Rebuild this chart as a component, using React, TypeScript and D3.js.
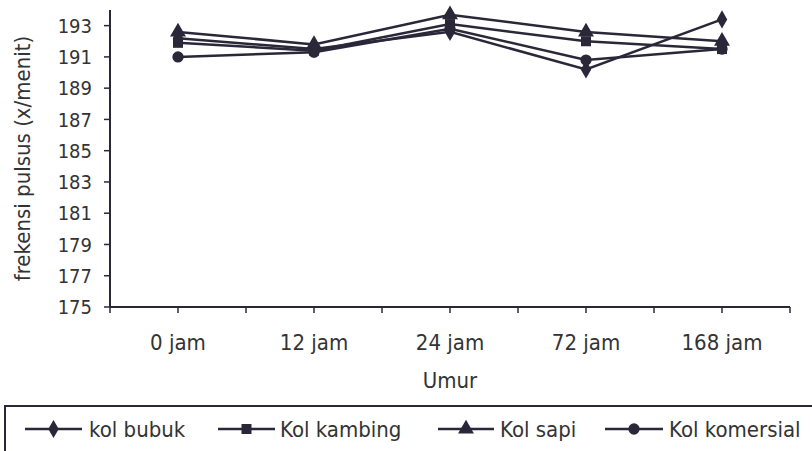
import React from "react";
import * as d3 from "d3";

const categories = ["0 jam", "12 jam", "24 jam", "72 jam", "168 jam"];
const yTicks = [175, 177, 179, 181, 183, 185, 187, 189, 191, 193];
const seriesNames = ["kol bubuk", "Kol kambing", "Kol sapi", "Kol komersial"];
const kolBubuk = [192.2, 191.5, 192.6, 190.2, 193.4];
const kolKambing = [191.9, 191.4, 193.1, 192.0, 191.5];
const kolSapi = [192.6, 191.8, 193.7, 192.6, 192.0];
const kolKomersial = [191.0, 191.3, 192.8, 190.8, 191.5];
const symbols = ["diamond", "square", "triangle", "circle"];

const W = 812;
const H = 451;
const FONT = "'DejaVu Sans Condensed', 'DejaVu Sans', sans-serif";
const INK = "#2a2838";
const TEXT = "#333333";

function Marker({ type, x, y }: { type: string; x: number; y: number }) {
  const sym =
    type === "diamond" ? d3.symbolDiamond : type === "square" ? d3.symbolSquare : type === "triangle" ? d3.symbolTriangle : d3.symbolCircle;
  const size = type === "diamond" ? 95 : type === "triangle" ? 110 : type === "square" ? 100 : 100;
  const path = d3.symbol().type(sym).size(size)();
  return <path d={path || ""} transform={`translate(${x},${y})`} fill={INK} />;
}

export default function App() {
  const x0 = 110;
  const x1 = 790;
  const yTop = 10;
  const yBot = 307;
  const x = d3.scaleBand<string>().domain(categories).range([x0, x1]);
  const y = d3.scaleLinear().domain([175, 194]).range([yBot, yTop]);
  const series = [kolBubuk, kolKambing, kolSapi, kolKomersial];
  const line = d3
    .line<number>()
    .x((_, i) => (x(categories[i]) as number) + x.bandwidth() / 2)
    .y((d) => y(d));

  const xTickPos: number[] = [];
  categories.forEach((c) => {
    xTickPos.push(x(c) as number);
    xTickPos.push((x(c) as number) + x.bandwidth() / 2);
  });
  xTickPos.push(x1);

  const legendItems = [
    { lx: 25, lw: 57, tx: 89 },
    { lx: 218, lw: 57, tx: 280 },
    { lx: 438, lw: 56, tx: 500 },
    { lx: 605, lw: 58, tx: 669 },
  ];
  const legY = 429;

  return (
    <svg width={W} height={H} style={{ position: "absolute", left: 0, top: 0, background: "#fff" }}>
      <rect x={0} y={0} width={W} height={H} fill="#fff" />
      <line x1={x0} x2={x0} y1={yTop} y2={yBot} stroke={INK} strokeWidth={2} />
      <line x1={x0} x2={x1} y1={yBot} y2={yBot} stroke={INK} strokeWidth={2} />
      {yTicks.map((t) => (
        <g key={t}>
          <line x1={x0 - 6} x2={x0} y1={y(t)} y2={y(t)} stroke={INK} strokeWidth={1.5} />
          <text x={92} y={y(t)} dy="0.36em" textAnchor="end" fontFamily={FONT} fontSize={20} fill={TEXT}>
            {t}
          </text>
        </g>
      ))}
      {xTickPos.map((p, i) => (
        <line key={i} x1={p} x2={p} y1={yBot} y2={yBot + 6} stroke={INK} strokeWidth={1.5} />
      ))}
      {categories.map((c) => (
        <text key={c} x={(x(c) as number) + x.bandwidth() / 2} y={350} textAnchor="middle" fontFamily={FONT} fontSize={22} fill={TEXT}>
          {c}
        </text>
      ))}
      <text x={(x0 + x1) / 2} y={388} textAnchor="middle" fontFamily={FONT} fontSize={22} fill={TEXT}>
        Umur
      </text>
      <text
        transform={`translate(30,${(yTop + yBot) / 2}) rotate(-90)`}
        textAnchor="middle"
        fontFamily={FONT}
        fontSize={22}
        fill={TEXT}
      >
        frekensi pulsus (x/menit)
      </text>
      {series.map((s, si) => (
        <g key={si}>
          <path d={line(s) || ""} fill="none" stroke={INK} strokeWidth={2.5} />
          {s.map((v, i) => (
            <Marker key={i} type={symbols[si]} x={(x(categories[i]) as number) + x.bandwidth() / 2} y={y(v)} />
          ))}
        </g>
      ))}
      <rect x={5} y={406} width={900} height={100} fill="none" stroke={INK} strokeWidth={2} />
      {seriesNames.map((n, i) => (
        <g key={n}>
          <line x1={legendItems[i].lx} x2={legendItems[i].lx + legendItems[i].lw} y1={legY} y2={legY} stroke={INK} strokeWidth={2.5} />
          <Marker type={symbols[i]} x={legendItems[i].lx + legendItems[i].lw / 2} y={legY} />
          <text x={legendItems[i].tx} y={legY} dy="0.36em" fontFamily={FONT} fontSize={22} fill={TEXT}>
            {n}
          </text>
        </g>
      ))}
    </svg>
  );
}
